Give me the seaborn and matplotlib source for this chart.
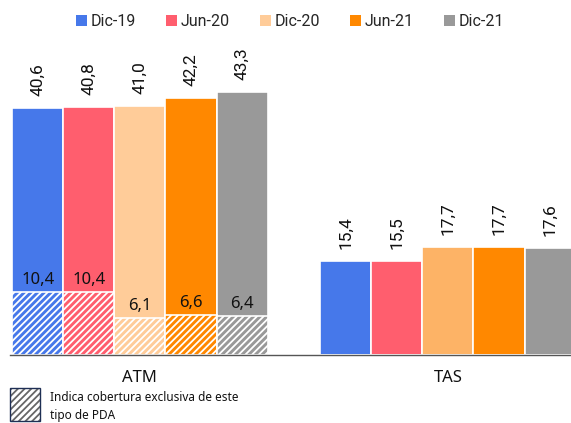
import pandas as pd
import matplotlib.pyplot as plt
import matplotlib.patches as mpatches
import seaborn as sns

# Data
categories = ["ATM", "TAS"]
periods = ["Dic-19", "Jun-20", "Dic-20", "Jun-21", "Dic-21"]
atm_total = [40.6, 40.8, 41.0, 42.2, 43.3]
tas_total = [15.4, 15.5, 17.7, 17.7, 17.6]
atm_excl = [10.4, 10.4, 6.1, 6.6, 6.4]

colors = ["#4678EA", "#FF5E6E", "#FFCC99", "#FF8800", "#999999"]
tas_dic20_color = "#FDB366"

rows = []
for i, p in enumerate(periods):
    rows.append({"cat": "ATM", "period": p, "total": atm_total[i], "excl": atm_excl[i]})
    rows.append({"cat": "TAS", "period": p, "total": tas_total[i], "excl": 0.0})
df = pd.DataFrame(rows)

sns.set_style("white")
plt.rcParams["hatch.linewidth"] = 1.3

fig = plt.figure(figsize=(5.71, 4.23), dpi=100)
ax = fig.add_axes([10 / 571, 1 - 355 / 423, 1 - 10 / 571, (355 - 40) / 423])

pal = dict(zip(periods, colors))
sns.barplot(data=df, x="cat", y="total", hue="period", order=categories,
            hue_order=periods, palette=pal, width=0.83, gap=0.0,
            edgecolor="white", linewidth=1.2, saturation=1, ax=ax, legend=False)
n_total = len(ax.patches)
sns.barplot(data=df, x="cat", y="excl", hue="period", order=categories,
            hue_order=periods, palette=pal, width=0.83, gap=0.0,
            edgecolor="white", linewidth=1.2, saturation=1, ax=ax, legend=False)

total_bars = ax.patches[:n_total]
excl_bars = ax.patches[n_total:]
for b in excl_bars:
    b.set_hatch("/////")

# recolour TAS Dic-20 bar
for b in total_bars:
    cx = b.get_x() + b.get_width() / 2
    if cx > 0.5 and abs(b.get_height() - tas_total[2]) < 1e-6 and b.get_facecolor()[:3] == tuple(int(colors[2][k:k + 2], 16) / 255 for k in (1, 3, 5)):
        b.set_facecolor(tas_dic20_color)

# value labels on top
for b in total_bars:
    h = b.get_height()
    cx = b.get_x() + b.get_width() / 2
    ax.text(cx, h + 2.0, f"{h:.1f}".replace(".", ","), rotation=90,
            ha="center", va="bottom", fontsize=12.5, family="Roboto", color="#111111")

# labels above exclusive part
for b in excl_bars:
    h = b.get_height()
    if h <= 0:
        continue
    cx = b.get_x() + b.get_width() / 2
    ax.text(cx, h + 0.6, f"{h:.1f}".replace(".", ","), ha="center", va="bottom",
            fontsize=12, family="Noto Sans", color="#111111")

ax.set_xlim(-0.422, 1.40)
ax.set_ylim(0, 51.8)
ax.set_xlabel("")
ax.set_ylabel("")
ax.set_yticks([])
ax.tick_params(axis="x", length=0, pad=11)
for lbl in ax.get_xticklabels():
    lbl.set_fontsize(12)
    lbl.set_family("Noto Sans")
    lbl.set_color("#111111")
for s in ["top", "right", "left"]:
    ax.spines[s].set_visible(False)
ax.spines["bottom"].set_color("#555555")
ax.spines["bottom"].set_linewidth(1.0)

# top legend
handles = [mpatches.Patch(facecolor=c, edgecolor="none", label=p) for p, c in zip(periods, colors)]
fig.legend(handles=handles, loc="center", bbox_to_anchor=(290 / 571, 1 - 22 / 423), ncol=5,
           frameon=False, handlelength=0.7, handleheight=0.7, handletextpad=0.25,
           columnspacing=1.85, prop={"family": "Roboto", "size": 11.5})

# bottom-left hatch note
box = (10 / 571, 1 - 421 / 423)
bw, bh = 30 / 571, 33 / 423
fig.patches.append(mpatches.Rectangle(box, bw, bh, transform=fig.transFigure,
                                      facecolor="white", edgecolor="#666666", linewidth=0, hatch="/////"))
fig.patches.append(mpatches.Rectangle(box, bw, bh, transform=fig.transFigure,
                                      facecolor="none", edgecolor="#1F2F55", linewidth=1.0))
fig.text(50 / 571, 1 - 397 / 423, "Indica cobertura exclusiva de este", fontsize=8.5,
         family="Noto Sans", va="center", color="#111111")
fig.text(50 / 571, 1 - 415 / 423, "tipo de PDA", fontsize=8.5,
         family="Noto Sans", va="center", color="#111111")

fig.savefig("out.png", dpi=100)
